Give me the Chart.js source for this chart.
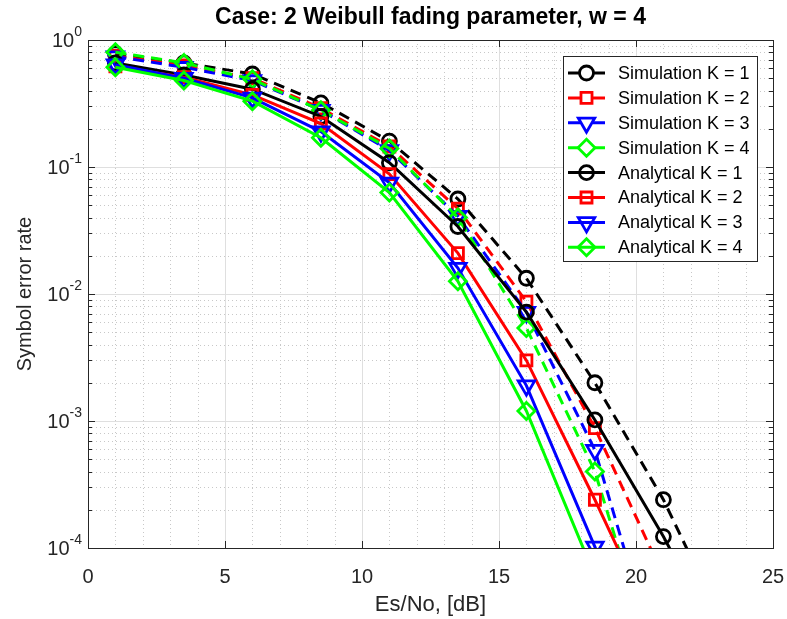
<!DOCTYPE html>
<html>
<head>
<meta charset="utf-8">
<script src="https://cdn.jsdelivr.net/npm/chart.js@4.4.1/dist/chart.umd.min.js"></script>
<style>
  body { margin: 0; background: #fff; }
</style>
</head>
<body>
<canvas id="ser" width="787" height="619"></canvas>
<script>
// Es/No points [dB] and symbol error rates
var esNo = [1, 3.5, 6, 8.5, 11, 13.5, 16, 18.5, 21, 23.5];
var simK1 = [0.78, 0.66, 0.54, 0.32, 0.16, 0.056, 0.0133, 0.0020, 0.00024, 0.000018];
var simK2 = [0.75, 0.63, 0.50, 0.29, 0.145, 0.047, 0.0087, 0.00088, 0.00006, 0.000004];
var simK3 = [0.74, 0.61, 0.48, 0.28, 0.135, 0.041, 0.0072, 0.00059, 0.000009, 0.0000005];
var simK4 = [0.80, 0.66, 0.49, 0.28, 0.14, 0.040, 0.0054, 0.00040, 0.000007, 0.0000004];
var anaK1 = [0.66, 0.53, 0.41, 0.25, 0.108, 0.034, 0.0072, 0.00102, 0.000123, 0.000012];
var anaK2 = [0.62, 0.51, 0.37, 0.22, 0.088, 0.021, 0.0030, 0.00024, 0.000017, 0.000001];
var anaK3 = [0.64, 0.50, 0.35, 0.19, 0.075, 0.016, 0.0019, 0.000102, 0.000005, 0.0000003];
var anaK4 = [0.61, 0.48, 0.33, 0.17, 0.063, 0.0126, 0.0012, 0.00006, 0.000003, 0.0000002];

var labels = ["Simulation K = 1", "Simulation K = 2", "Simulation K = 3", "Simulation K = 4",
              "Analytical K = 1", "Analytical K = 2", "Analytical K = 3", "Analytical K = 4"];
var xTicks = [0, 5, 10, 15, 20, 25];
var yDecades = [0, -1, -2, -3, -4];

var colors = ["#000000", "#ff0000", "#0000ff", "#00ff00"];
var markers = [
  { style: "circle", rot: 0, r: 7 },
  { style: "rect", rot: 0, r: 7.8 },
  { style: "triangle", rot: 180, r: 9.5 },
  { style: "rectRot", rot: 0, r: 8.5 }
];
var DASH = [11, 7];
var FONT = "'Liberation Sans', Arial, Helvetica, sans-serif";
var AXIS_COL = "#262626";

Chart.defaults.font.family = FONT;

function pts(vals) {
  return vals.map(function(v, i) { return { x: esNo[i], y: v }; });
}

var series = [simK1, simK2, simK3, simK4, anaK1, anaK2, anaK3, anaK4];
var datasets = series.map(function(vals, i) {
  var k = i % 4;
  var sim = i < 4;
  return {
    label: labels[i],
    data: pts(vals),
    borderColor: colors[k],
    borderWidth: 3,
    borderDash: sim ? DASH : [],
    pointStyle: markers[k].style,
    pointRotation: markers[k].rot,
    pointRadius: markers[k].r,
    pointBorderWidth: 2.8,
    pointBorderColor: colors[k],
    pointBackgroundColor: "rgba(0,0,0,0)",
    fill: false,
    tension: 0,
    order: 7 - i
  };
});

function markerPath(ctx, m, x, y) {
  var r = m.r;
  ctx.beginPath();
  if (m.style === "circle") {
    ctx.arc(x, y, r, 0, Math.PI * 2);
  } else if (m.style === "rect") {
    var s = r * Math.SQRT1_2;
    ctx.rect(x - s, y - s, 2 * s, 2 * s);
  } else if (m.style === "triangle") {
    var a = m.rot * Math.PI / 180;
    for (var j = 0; j < 3; j++) {
      var px = x + Math.sin(a) * r, py = y - Math.cos(a) * r;
      if (j === 0) ctx.moveTo(px, py); else ctx.lineTo(px, py);
      a += 2 * Math.PI / 3;
    }
    ctx.closePath();
  } else {
    ctx.moveTo(x - r, y);
    ctx.lineTo(x, y - r);
    ctx.lineTo(x + r, y);
    ctx.lineTo(x, y + r);
    ctx.closePath();
  }
  ctx.stroke();
}

// MATLAB style grid (major solid, minor dotted)
var gridPlugin = {
  id: "matGrid",
  beforeDatasetsDraw: function(chart) {
    var ctx = chart.ctx, a = chart.chartArea;
    var xs = chart.scales.x, ys = chart.scales.y;
    ctx.save();
    ctx.lineWidth = 1;
    ctx.strokeStyle = "#c8c8c8";
    ctx.setLineDash([1, 3]);
    for (var v = 1; v < 25; v++) {
      if (v % 5 === 0) continue;
      var px = Math.round(xs.getPixelForValue(v)) + 0.5;
      ctx.beginPath(); ctx.moveTo(px, a.top); ctx.lineTo(px, a.bottom); ctx.stroke();
    }
    for (var e = -4; e < 0; e++) {
      for (var k = 2; k <= 9; k++) {
        var py = Math.round(ys.getPixelForValue(k * Math.pow(10, e))) + 0.5;
        ctx.beginPath(); ctx.moveTo(a.left, py); ctx.lineTo(a.right, py); ctx.stroke();
      }
    }
    ctx.setLineDash([]);
    ctx.strokeStyle = "#dfdfdf";
    xTicks.slice(1, -1).forEach(function(v) {
      var px = Math.round(xs.getPixelForValue(v)) + 0.5;
      ctx.beginPath(); ctx.moveTo(px, a.top); ctx.lineTo(px, a.bottom); ctx.stroke();
    });
    yDecades.slice(1, -1).forEach(function(e) {
      var py = Math.round(ys.getPixelForValue(Math.pow(10, e))) + 0.5;
      ctx.beginPath(); ctx.moveTo(a.left, py); ctx.lineTo(a.right, py); ctx.stroke();
    });
    ctx.restore();
  },
  afterDatasetsDraw: function(chart) {
    var ctx = chart.ctx, a = chart.chartArea;
    var xs = chart.scales.x, ys = chart.scales.y;
    ctx.save();
    ctx.strokeStyle = AXIS_COL;
    ctx.lineWidth = 1;
    // ticks pointing inwards on all four sides
    xTicks.forEach(function(v) {
      var px = Math.round(xs.getPixelForValue(v)) + 0.5;
      ctx.beginPath();
      ctx.moveTo(px, a.bottom); ctx.lineTo(px, a.bottom - 7);
      ctx.moveTo(px, a.top); ctx.lineTo(px, a.top + 7);
      ctx.stroke();
    });
    for (var e = -4; e <= 0; e++) {
      for (var k = 1; k <= 9; k++) {
        if (e === 0 && k > 1) break;
        var py = Math.round(ys.getPixelForValue(k * Math.pow(10, e))) + 0.5;
        var len = k === 1 ? 7 : 4;
        ctx.beginPath();
        ctx.moveTo(a.left, py); ctx.lineTo(a.left + len, py);
        ctx.moveTo(a.right, py); ctx.lineTo(a.right - len, py);
        ctx.stroke();
      }
    }
    ctx.strokeRect(Math.round(a.left) + 0.5, Math.round(a.top) + 0.5,
                   Math.round(a.right - a.left), Math.round(a.bottom - a.top));

    // y tick labels 10^n
    yDecades.forEach(function(e) {
      var py = ys.getPixelForValue(Math.pow(10, e));
      var exp = String(e);
      ctx.fillStyle = AXIS_COL;
      ctx.textBaseline = "middle";
      ctx.textAlign = "right";
      ctx.font = "14px " + FONT;
      var ew = ctx.measureText(exp).width;
      var right = a.left - 6;
      ctx.fillText(exp, right, py - 8);
      ctx.font = "20px " + FONT;
      ctx.fillText("10", right - ew, py + 1);
    });
    ctx.restore();
  },
  afterDraw: function(chart) {
    // legend box in the upper right
    var ctx = chart.ctx;
    var bx = 563, by = 56, bw = 194, bh = 205;
    ctx.save();
    ctx.fillStyle = "#ffffff";
    ctx.fillRect(bx, by, bw, bh);
    ctx.strokeStyle = AXIS_COL;
    ctx.lineWidth = 1;
    ctx.strokeRect(bx + 0.5, by + 0.5, bw, bh);
    for (var i = 0; i < 8; i++) {
      var k = i % 4;
      var cy = by + 17 + i * 24.9;
      var x0 = bx + 5, x1 = bx + 42, cx = (x0 + x1) / 2;
      ctx.strokeStyle = colors[k];
      ctx.lineWidth = 3;
      ctx.beginPath();
      if (i < 4) {
        ctx.moveTo(x0, cy); ctx.lineTo(x0 + 12, cy);
        ctx.moveTo(x1 - 12, cy); ctx.lineTo(x1, cy);
      } else {
        ctx.moveTo(x0, cy); ctx.lineTo(x1, cy);
      }
      ctx.stroke();
      ctx.lineWidth = 2.8;
      markerPath(ctx, markers[k], cx, cy);
      ctx.fillStyle = "#000000";
      ctx.font = "18px " + FONT;
      ctx.textAlign = "left";
      ctx.textBaseline = "middle";
      ctx.fillText(labels[i], bx + 55, cy + 1);
    }
    ctx.restore();
  }
};

var ctx = document.getElementById("ser").getContext("2d");
var serChart = new Chart(ctx, {
  type: "line",
  data: { datasets: datasets },
  plugins: [gridPlugin],
  options: {
    responsive: false,
    animation: false,
    devicePixelRatio: 1,
    layout: { padding: { left: 0, right: 14, top: 0, bottom: 0 } },
    plugins: {
      legend: { display: false },
      tooltip: { enabled: false },
      title: {
        display: true,
        fullSize: false,
        text: "Case: 2 Weibull fading parameter, w = 4",
        color: "#000000",
        font: { size: 23, weight: "bold" },
        padding: { top: 4, bottom: 8.4 }
      }
    },
    scales: {
      x: {
        type: "linear",
        min: 0,
        max: 25,
        grid: { display: false, drawTicks: false },
        border: { display: false },
        ticks: { stepSize: 5, color: AXIS_COL, font: { size: 20 }, padding: 17, maxRotation: 0 },
        title: { display: true, text: "Es/No, [dB]", color: AXIS_COL, font: { size: 22 }, padding: { top: 0, bottom: 1 } },
        afterFit: function(s) { s.height = 71; s.paddingLeft = 0; s.paddingRight = 0; }
      },
      y: {
        type: "logarithmic",
        min: 0.0001,
        max: 1,
        grid: { display: false, drawTicks: false },
        border: { display: false },
        ticks: { display: false },
        title: { display: true, text: "Symbol error rate", color: AXIS_COL, font: { size: 20 }, padding: { top: 13, bottom: 0 } },
        afterFit: function(s) { s.width = 88; s.paddingTop = 0; s.paddingBottom = 0; }
      }
    }
  }
});
</script>
</body>
</html>
